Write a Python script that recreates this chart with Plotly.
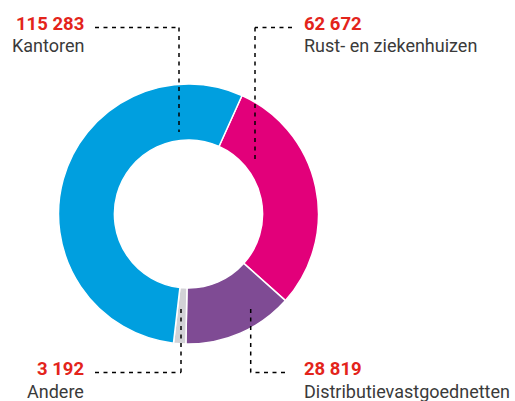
import plotly.graph_objects as go

# ---- data ----
labels = ["Rust- en ziekenhuizen", "Distributievastgoednetten", "Andere", "Kantoren"]
values = [62672, 28819, 3192, 115283]
value_texts = ["62 672", "28 819", "3 192", "115 283"]
colors = ["#e2007a", "#7f4b94", "#d2d2d6", "#009fdf"]

W, H = 515, 401
CX, CY, R = 188.5, 214.0, 130.0
HOLE = 0.57

def px(x):
    return x / W

def py(y):
    return 1 - y / H

fig = go.Figure(go.Pie(
    labels=labels,
    values=values,
    hole=HOLE,
    sort=False,
    direction="clockwise",
    rotation=24.3,
    marker=dict(colors=colors, line=dict(color="white", width=1.5)),
    textinfo="none",
    hoverinfo="label+value",
    domain=dict(x=[px(CX - R), px(CX + R)], y=[py(CY + R), py(CY - R)]),
    showlegend=False,
))

# leader lines (pixel coordinates of the callouts)
leaders = [
    [(95, 27.5), (179, 27.5), (179, 132)],     # Kantoren
    [(292, 27.5), (255, 27.5), (255, 163)],    # Rust- en ziekenhuizen
    [(95, 372.5), (181, 372.5), (181, 306)],   # Andere
    [(285, 372.5), (250.7, 372.5), (250.7, 305)],  # Distributie
]
shapes = []
for pts in leaders:
    for (x0, y0), (x1, y1) in zip(pts[:-1], pts[1:]):
        shapes.append(dict(type="line", xref="paper", yref="paper",
                           x0=px(x0), y0=py(y0), x1=px(x1), y1=py(y1),
                           line=dict(color="#000000", width=1.5, dash="4px,4.5px")))

RED = "#e3241b"
GREY = "#3a3a3a"
NUM_FONT = dict(family="Roboto", size=18.5, color=RED, weight="bold")
LAB_FONT = dict(family="Roboto", size=18, color=GREY)

# (value text, label, x, anchor, y number centre, y label centre)
callouts = [
    (value_texts[3], labels[3], 84.5, "right", 24, 46),
    (value_texts[0], labels[0], 303, "left", 24, 46),
    (value_texts[2], labels[2], 84.5, "right", 368.5, 391),
    (value_texts[1], labels[1], 303, "left", 368.5, 391),
]
annotations = []
for vt, lab, x, anc, yn, yl in callouts:
    annotations.append(dict(text="<b>" + vt + "</b>", x=px(x), y=py(yn), xref="paper", yref="paper",
                            xanchor=anc, yanchor="middle", showarrow=False, font=NUM_FONT,
                            borderpad=0))
    annotations.append(dict(text=lab, x=px(x), y=py(yl), xref="paper", yref="paper",
                            xanchor=anc, yanchor="middle", showarrow=False, font=LAB_FONT,
                            borderpad=0))

fig.update_layout(
    width=W, height=H,
    margin=dict(l=0, r=0, t=0, b=0),
    paper_bgcolor="white",
    plot_bgcolor="white",
    shapes=shapes,
    annotations=annotations,
)

fig.write_html("out.html",
               config=dict(displayModeBar=False),
               post_script="document.body.style.margin='0';document.body.style.overflow='hidden';")
